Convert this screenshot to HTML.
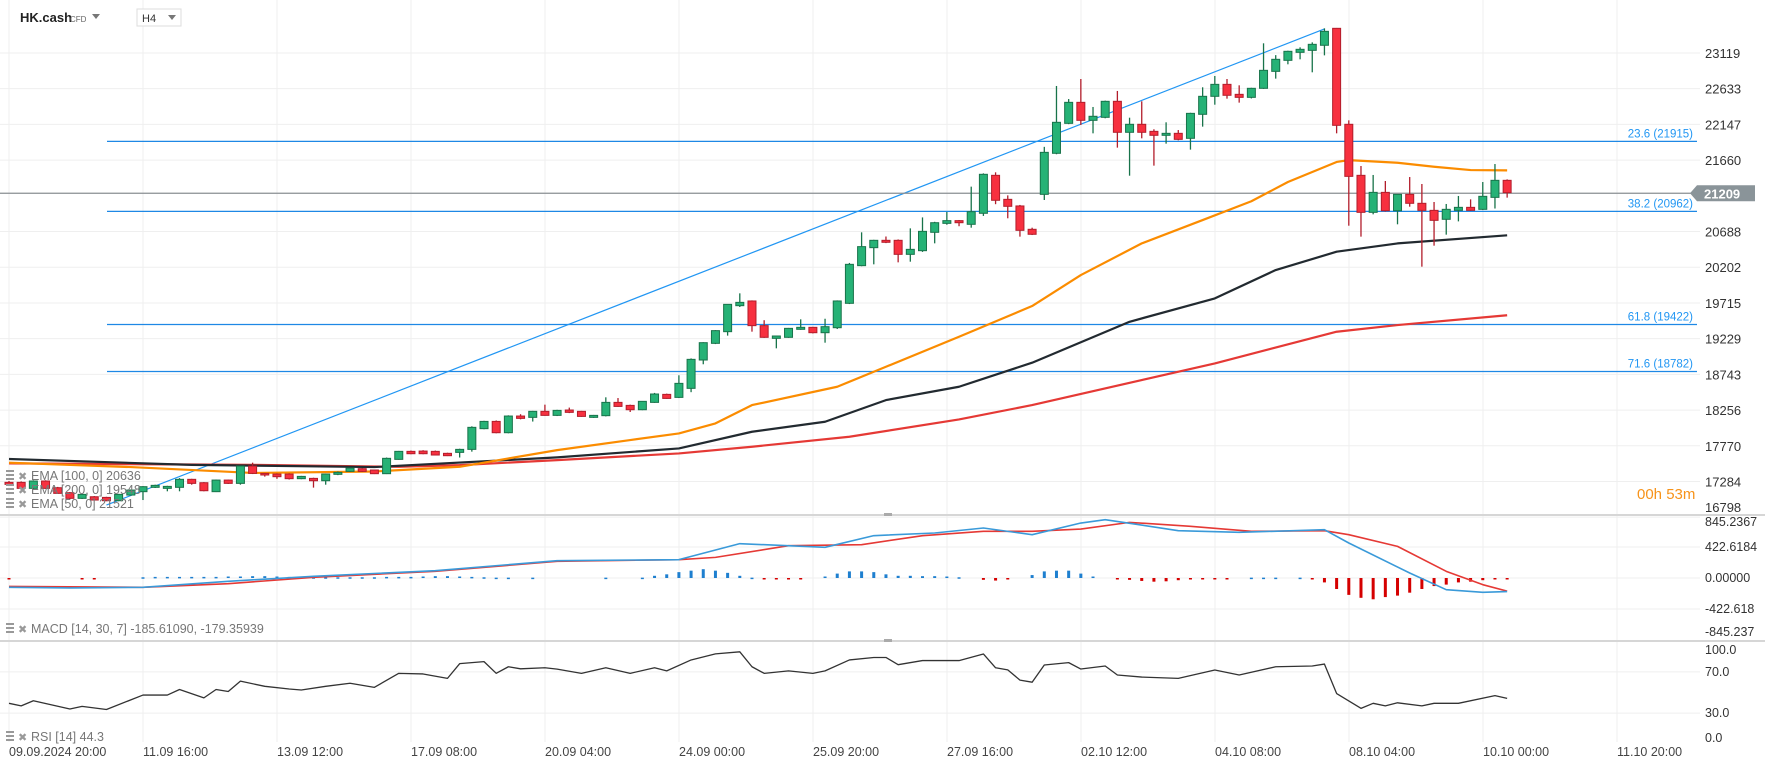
<!DOCTYPE html>
<html><head><meta charset="utf-8">
<style>
html,body{margin:0;padding:0;background:#fff;}
svg{display:block;font-family:"Liberation Sans",sans-serif;}
</style></head>
<body>
<svg id="chart" width="1765" height="770" viewBox="0 0 1765 770">
  <g id="grid"></g>
  <g id="main"></g>
  <g id="macd"></g>
  <g id="rsi"></g>
  <g id="axes"></g>
  <g>
    <text x="20" y="22" font-size="13" font-weight="bold" fill="#222">HK.cash</text>
    <text x="70" y="22" font-size="8" fill="#666">CFD</text>
    <path d="M92 14 L100 14 L96 19 Z" fill="#777"/>
    <rect x="137" y="9" width="44" height="17" fill="#fff" stroke="#ddd"/>
    <text x="142" y="22" font-size="11" fill="#333">H4</text>
    <path d="M168 15 L176 15 L172 20 Z" fill="#777"/>
  </g>
</svg>
<script>
const NS="http://www.w3.org/2000/svg";
// ---- candle data (H4) ----
const opens=[17272,17272,17190,17290,17199,17131,17054,17076,17067,17022,17099,17145,17204,17190,17204,17313,17267,17145,17303,17258,17494,17394,17385,17385,17322,17326,17294,17381,17421,17458,17440,17390,17585,17694,17698,17694,17667,17680,17721,18003,18102,17948,18175,18157,18239,18184,18257,18239,18157,18180,18361,18320,18261,18361,18470,18429,18552,18938,19165,19324,19678,19742,19406,19233,19247,19356,19383,19310,19378,19710,20223,20468,20568,20568,20377,20427,20677,20799,20836,20786,20936,21453,21126,21036,20718,21194,21753,22161,22447,22202,22243,22461,22039,22148,22052,21998,22025,21957,22284,22529,22692,22556,22515,22638,22869,23019,23128,23155,23224,23455,22148,21453,20949,21221,20971,21194,21072,20976,20854,20976,21017,20990,21153,21385];
const highs=[17290,17285,17300,17300,17210,17140,17115,17085,17075,17115,17175,17220,17240,17225,17330,17320,17275,17310,17310,17500,17540,17400,17395,17395,17360,17335,17390,17420,17470,17465,17445,17610,17700,17705,17710,17705,17675,17730,18035,18110,18115,18185,18200,18245,18330,18260,18290,18245,18190,18430,18420,18330,18380,18490,18480,18730,18960,19180,19345,19700,19846,19750,19480,19270,19375,19492,19390,19500,19750,20260,20677,20575,20620,20580,20731,20880,20820,20954,20845,21299,21480,21494,21180,21050,20740,21841,22670,22492,22765,22384,22470,22602,22238,22461,22080,22175,22070,22305,22652,22806,22765,22679,22645,23251,23090,23150,23196,23264,23455,23460,22202,21580,21458,21376,21194,21430,21335,21090,21063,21172,21126,21362,21607,21398];
const lows=[17240,17185,17180,17185,17115,17045,17045,17025,17015,17015,17090,17031,17195,17150,17150,17240,17150,17140,17250,17240,17385,17350,17320,17310,17315,17200,17240,17370,17415,17415,17385,17385,17580,17655,17655,17640,17630,17610,17690,17995,17940,17940,18130,18100,18180,18175,18215,18165,18150,18170,18300,18230,18255,18355,18410,18420,18500,18880,19155,19270,19660,19324,19240,19097,19240,19350,19300,19174,19360,19700,20215,20241,20530,20268,20277,20410,20527,20780,20760,20740,20900,21060,20868,20618,20640,21117,21740,22150,22139,22025,22230,21830,21448,21957,21585,21884,21930,21803,22116,22415,22497,22443,22500,22630,22770,22965,23033,22856,23087,22025,20767,20618,20922,20960,20786,21026,20209,20495,20645,20826,20970,20980,21001,21149];
const closes=[17244,17190,17290,17190,17122,17054,17108,17031,17022,17108,17167,17213,17231,17217,17313,17258,17158,17303,17258,17494,17394,17372,17349,17322,17353,17294,17385,17408,17467,17421,17390,17599,17694,17662,17662,17644,17635,17721,18021,18102,17948,18175,18143,18239,18184,18252,18225,18170,18184,18361,18306,18261,18375,18475,18415,18620,18947,19174,19338,19696,19723,19406,19247,19265,19369,19383,19310,19392,19742,20241,20482,20568,20541,20377,20445,20690,20808,20836,20808,20958,21467,21113,21031,20704,20650,21766,22175,22447,22202,22257,22461,22039,22148,22039,21998,22025,21943,22297,22529,22692,22543,22515,22638,22883,23033,23142,23169,23237,23414,22134,21439,20949,21221,20971,21194,21072,20976,20840,20990,21017,20976,21167,21385,21217];
// ---- moving averages (sampled at candle index) ----
const ema50Idx=[0,10,20,30,37,45,51,55,58,61,68,72,78,84,88,93,98,102,105,109,110,114,117,120,123];
const ema50Val=[17540,17480,17400,17420,17484,17711,17848,17938,18075,18324,18574,18846,19255,19673,20095,20526,20844,21100,21362,21635,21660,21624,21570,21525,21521];
const ema100Idx=[0,15,30,45,55,61,67,72,78,84,92,99,104,109,114,123];
const ema100Val=[17590,17510,17480,17612,17734,17961,18097,18392,18574,18901,19459,19777,20163,20413,20526,20636];
const ema200Idx=[0,20,32,37,45,55,61,69,78,84,93,99,109,114,123];
const ema200Val=[17530,17510,17484,17507,17575,17666,17757,17893,18129,18324,18665,18892,19323,19414,19548];
// ---- fibonacci levels ----
const fibLabels=["23.6","38.2","61.8","71.6"];
const fibPrices=[21915,20962,19422,18782];
const trendStart=[8,16963], trendEnd=[108,23446];
const lastPrice=21209;
const priceTicks=[23119,22633,22147,21660,20688,20202,19715,19229,18743,18256,17770,17284,16798];
// ---- MACD ----
const macdIdx=[0,5,11,18,25,35,45,55,60,67,71,76,80,84,88,90,96,101,108,110,115,118,121,123];
const macdVal=[-127,-136,-127,-45,23,100,236,250,468,418,577,613,681,590,749,795,645,622,658,477,68,-159,-195,-185];
const sigIdx=[0,11,18,25,35,45,55,58,64,70,75,80,84,88,92,97,102,108,110,114,118,121,123];
const sigVal=[-114,-127,-77,9,91,227,250,281,440,454,577,636,636,667,758,704,636,645,590,431,91,-91,-179];
const histVals=[-5,0,0,0,0,0,-5,-5,0,0,0,10,15,15,15,15,15,15,20,20,25,25,20,15,15,10,10,10,10,10,10,15,15,15,20,25,25,20,15,10,5,5,0,5,0,0,0,0,0,5,0,0,5,30,50,80,100,120,100,70,30,5,-10,-15,-15,-10,0,20,60,90,90,80,50,30,30,25,25,20,10,0,-25,-35,-15,0,40,90,100,100,60,20,0,-15,-25,-40,-50,-45,-30,-20,-15,-10,-5,0,5,5,5,0,5,-5,-60,-150,-230,-270,-290,-260,-240,-200,-150,-110,-90,-60,-50,-30,-10,-5];
const macdTicks=["845.2367","422.6184","0.00000","-422.618","-845.237"];
const macdTickVals=[845.2367,422.6184,0,-422.618,-845.237];
// ---- RSI ----
const rsiIdx=[0,1,2,5,6,8,11,13,14,16,17,18,19,21,23,24,26,28,30,32,34,36,37,39,40,41,42,44,45,47,49,51,53,54,56,58,60,61,62,64,66,67,69,71,72,73,75,78,80,81,82,83,84,85,87,88,90,91,93,96,99,101,104,107,108,109,111,112,113,114,116,117,119,122,123];
const rsiVal=[39.5,37,42,34,36.5,33.5,47.5,47.5,52.9,44.8,52.9,51,61,56,53.4,52.4,56,59,55,68.6,68,63.7,78,80,68.6,75,73,74,72.7,68.6,74,68.6,74,71,81.6,87.5,89.5,75,68.6,71,68.6,71,81.6,84,84,77,81,81,87.4,74,72,62,60,76.7,79,72.8,75.7,67,65,63.7,71.8,67,75,75.7,77.6,49,34.6,39.5,37,40,37,39.5,39.5,47,44.3];
const rsiTicks=["100.0","70.0","30.0","0.0"];
const rsiTickVals=[100,70,30,0];
const timeLabels=["09.09.2024  20:00","11.09  16:00","13.09  12:00","17.09  08:00","20.09  04:00","24.09  00:00","25.09  20:00","27.09  16:00","02.10  12:00","04.10  08:00","08.10  04:00","10.10  00:00","11.10  20:00"];

// ---- axis functions ----
const PLOT_R=1697;
const xI=i=>9+i*12.18;
const yP=p=>53+(23119-p)*0.07343;
const yM=v=>578-v*0.0734;
const yR=r=>744-r*1.03;

function mk(tag,attrs,parent){const e=document.createElementNS(NS,tag);for(const k in attrs)e.setAttribute(k,attrs[k]);parent.appendChild(e);return e;}
const G=document.getElementById('grid'),M=document.getElementById('main'),MC=document.getElementById('macd'),R=document.getElementById('rsi'),AX=document.getElementById('axes');

for(let k=0;k<timeLabels.length;k++){
  const x=9+k*134;
  const l=mk('line',{x1:x,x2:x,y1:0,y2:742,stroke:'#efefef','stroke-width':1},G);
  
  
  const t=mk('text',{x:x,y:756,'font-size':12.5,fill:'#444','xml:space':'preserve'},AX);
  t.textContent=timeLabels[k];
  
  
}
priceTicks.forEach(p=>{
  const y=yP(p);
  const l=mk('line',{x1:0,x2:1700,y1:y,y2:y,stroke:'#efefef'},G);
  
  
  const t=mk('text',{x:1705,y:Math.min(512,y+5),'font-size':13,fill:'#333'},AX);
  t.textContent=p;
  
  
});
[515,641].forEach(y=>{
  const l=mk('line',{x1:0,x2:1765,y1:y,y2:y,stroke:'#d6d6d6','stroke-width':2},G);
  
  
  const h=mk('rect',{x:884,y:y-2,width:8,height:3,fill:'#aaa'},G);
  
  
});

const defs=mk('defs',{},document.getElementById('chart'));
const cp=mk('clipPath',{id:'mainclip'},defs);mk('rect',{x:0,y:0,width:PLOT_R,height:514},cp);
M.setAttribute('clip-path','url(#mainclip)');

fibPrices.forEach((p,k)=>{
  const y=yP(p);
  const l=mk('line',{x1:107,x2:PLOT_R,y1:y,y2:y,stroke:'#1e88e5','stroke-width':1.2},M);
  
  
  const t=mk('text',{x:1693,y:y-4,'font-size':11.5,fill:'#2196f3','text-anchor':'end'},M);
  t.textContent=fibLabels[k]+' ('+p+')';
  
  
});
const tl=mk('line',{x1:xI(trendStart[0]),y1:yP(trendStart[1]),x2:xI(trendEnd[0]),y2:yP(trendEnd[1]),stroke:'#2196f3','stroke-width':1.2},M);


const lpY=yP(lastPrice);
const lp=mk('line',{x1:0,x2:PLOT_R,y1:lpY,y2:lpY,stroke:'#8a8f93','stroke-width':1.2},M);



function poly(idx,val,color,w,name,parent,yf){
  const pts=idx.map((i,k)=>xI(i)+','+yf(val[k])).join(' ');
  const e=mk('polyline',{points:pts,fill:'none',stroke:color,'stroke-width':w,'stroke-linejoin':'round'},parent);
  
  
  return e;
}
poly(ema200Idx,ema200Val,'#e53935',2.2,'ema-200-line',M,yP);
poly(ema100Idx,ema100Val,'#222a30',2.2,'ema-100-line',M,yP);
poly(ema50Idx,ema50Val,'#fb8c00',2.2,'ema-50-line',M,yP);

for(let i=0;i<opens.length;i++){
  const up=closes[i]>=opens[i];
  const fill=up?'#26b276':'#f7303f', st=up?'#18734a':'#b21d2b';
  const x=xI(i);
  const w=mk('line',{x1:x,x2:x,y1:yP(highs[i]),y2:yP(lows[i]),stroke:st,'stroke-width':1.3},M);
  
  
  const top=yP(Math.max(opens[i],closes[i])),bot=yP(Math.min(opens[i],closes[i]));
  const b=mk('rect',{x:x-4,y:top,width:8,height:Math.max(1.5,bot-top),fill:fill,stroke:st,'stroke-width':1},M);
  
  
}

const tag=mk('path',{d:`M1690 ${lpY} L1697 ${lpY-8} L1755 ${lpY-8} L1755 ${lpY+8} L1697 ${lpY+8} Z`,fill:'#8a9499'},AX);


const tt=mk('text',{x:1704,y:lpY+5,'font-size':13,'font-weight':'bold',fill:'#fff'},AX);
tt.textContent=lastPrice;



const cd=mk('text',{x:1637,y:499,'font-size':15,fill:'#f7931a'},AX);
cd.textContent='00h 53m';



function legend(y,txt,name){
  const g=mk('g',{},AX);
  
  
  mk('rect',{x:6,y:y-9,width:8,height:2,fill:'#999'},g);
  mk('rect',{x:6,y:y-5,width:8,height:2,fill:'#999'},g);
  mk('rect',{x:6,y:y-1,width:8,height:2,fill:'#999'},g);
  const x=mk('text',{x:18,y:y+1,'font-size':11,fill:'#999'},g);x.textContent='✖';
  const t=mk('text',{x:31,y:y+1,'font-size':12.5,fill:'#777','xml:space':'preserve'},g);t.textContent=txt;
}
legend(479,'EMA [100,  0]  20636','ema-100-legend');
legend(493,'EMA [200,  0]  19548','ema-200-legend');
legend(507,'EMA [50,  0]  21521','ema-50-legend');
legend(632,'MACD  [14,  30,  7]  -185.61090,   -179.35939','macd-legend');
legend(740,'RSI  [14]  44.3','rsi-legend');

[422.6184,0,-422.618].forEach(v=>{
  const l=mk('line',{x1:0,x2:1700,y1:yM(v),y2:yM(v),stroke:'#efefef'},G);
  
  
});
macdTicks.forEach((s,k)=>{
  const y=Math.min(636,Math.max(526,yM(macdTickVals[k])+4));
  const t=mk('text',{x:1705,y:y,'font-size':12.5,fill:'#333'},AX);
  t.textContent=s;
  
  
});
histVals.forEach((v,i)=>{
  if(v===0)return;
  const y0=yM(0),y1=yM(v);
  const b=mk('rect',{x:xI(i)-1.5,y:Math.min(y0,y1),width:3,height:Math.max(1.5,Math.abs(y1-y0)),fill:v>0?'#1e7fcf':'#d50000'},MC);
  
  
});
poly(sigIdx,sigVal,'#e53935',1.6,'macd-signal-line',MC,yM);
poly(macdIdx,macdVal,'#3a9ad9',1.6,'macd-line',MC,yM);

[70,30].forEach(v=>{
  const l=mk('line',{x1:0,x2:1700,y1:yR(v),y2:yR(v),stroke:'#efefef'},G);
  
  
});
rsiTicks.forEach((s,k)=>{
  const y=Math.min(742,Math.max(654,yR(rsiTickVals[k])+4));
  const t=mk('text',{x:1705,y:y,'font-size':12.5,fill:'#333'},AX);
  t.textContent=s;
  
  
});
poly(rsiIdx,rsiVal,'#333',1.3,'rsi-line',R,yR);
</script>
</body></html>
